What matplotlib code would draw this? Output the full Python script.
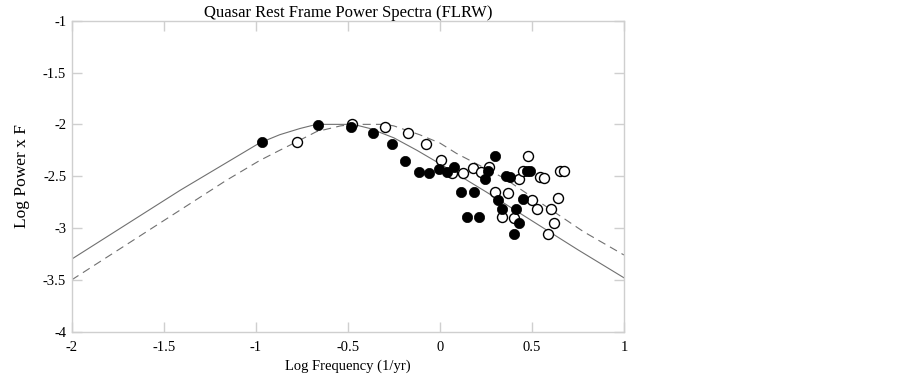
import matplotlib
matplotlib.use("Agg")
import matplotlib.pyplot as plt

plt.rcParams['font.family'] = ['Liberation Serif', 'DejaVu Serif']
plt.rcParams['axes.unicode_minus'] = False
plt.rcParams['lines.scale_dashes'] = False

# Model curves
solid_x = [-2.0, -1.41, -0.98, -0.87, -0.76, -0.67, -0.47, -0.38, -0.25, -0.125, 0.0, 0.25, 0.5, 0.75, 1.0]
solid_y = [-3.30, -2.635, -2.18, -2.10, -2.04, -2.00, -2.00, -2.04, -2.13, -2.25, -2.38, -2.65, -2.93, -3.21, -3.48]

dash_x = [-2.0, -1.16, -0.98, -0.87, -0.78, -0.67, -0.54, -0.47, -0.30, -0.25, -0.11, 0.0, 0.09, 0.35, 0.55, 0.78, 1.0]
dash_y = [-3.50, -2.54, -2.35, -2.25, -2.17, -2.07, -2.015, -2.00, -2.00, -2.015, -2.10, -2.18, -2.28, -2.52, -2.76, -3.035, -3.26]

# Observed frame (filled) points
filled_x = [-0.964, -0.663, -0.482, -0.361, -0.261, -0.187, -0.116, -0.058, -0.005, 0.038,
            0.078, 0.297, 0.114, 0.186, 0.264, 0.245, 0.360, 0.382, 0.318, 0.337,
            0.416, 0.451, 0.431, 0.400, 0.150, 0.213, 0.473, 0.487]
filled_y = [-2.174, -2.007, -2.029, -2.081, -2.193, -2.351, -2.463, -2.473, -2.429, -2.463,
            -2.409, -2.303, -2.656, -2.656, -2.451, -2.525, -2.499, -2.512, -2.734, -2.818,
            -2.818, -2.721, -2.950, -3.062, -2.892, -2.898, -2.451, -2.451]

# Rest frame (open) points
open_x = [-0.777, -0.475, -0.297, -0.174, -0.076, 0.005, 0.068, 0.125, 0.179, 0.224,
          0.266, 0.302, 0.368, 0.430, 0.480, 0.450, 0.545, 0.567, 0.654, 0.672,
          0.503, 0.527, 0.603, 0.639, 0.335, 0.400, 0.621, 0.587]
open_y = [-2.174, -2.000, -2.023, -2.081, -2.193, -2.345, -2.467, -2.473, -2.422, -2.463,
          -2.409, -2.656, -2.658, -2.526, -2.306, -2.451, -2.506, -2.515, -2.451, -2.451,
          -2.734, -2.818, -2.818, -2.714, -2.892, -2.900, -2.950, -3.062]

xticks = [-2, -1.5, -1, -0.5, 0, 0.5, 1]
xtick_labels = ["-2", "-1.5", "-1", "-0.5", "0", "0.5", "1"]
yticks = [-1, -1.5, -2, -2.5, -3, -3.5, -4]
ytick_labels = ["-1", "-1.5", "-2", "-2.5", "-3", "-3.5", "-4"]

fig = plt.figure(figsize=(9.03, 3.74), dpi=100)
ax = fig.add_axes([0.0794, 0.1131, 0.6116, 0.8316])

ax.plot(solid_x, solid_y, color='#707070', lw=0.8, zorder=2)
ax.plot(dash_x, dash_y, color='#707070', lw=0.8, dashes=(5.8, 3.8), zorder=2)

ax.plot(open_x, open_y, linestyle='none', marker='o', markersize=7.2,
        markerfacecolor='white', markeredgecolor='black', markeredgewidth=1.0, zorder=3)
ax.plot(filled_x, filled_y, linestyle='none', marker='o', markersize=7.4,
        markerfacecolor='black', markeredgecolor='black', markeredgewidth=0.5, zorder=4)

ax.set_xlim(-2, 1)
ax.set_ylim(-4, -1)
ax.set_xticks(xticks)
ax.set_xticklabels(xtick_labels)
ax.set_yticks(yticks)
ax.set_yticklabels(ytick_labels)

for s in ax.spines.values():
    s.set_color('#cfcfcf')
    s.set_linewidth(1.0)
ax.tick_params(direction='in', length=7.5, width=1.0, color='#cfcfcf',
               top=True, right=True, labelsize=10.5)
ax.tick_params(axis='x', pad=7)
ax.tick_params(axis='y', pad=4)

ax.set_title("Quasar Rest Frame Power Spectra (FLRW)", fontsize=12, pad=3)
ax.set_xlabel("Log Frequency (1/yr)", fontsize=10.5, labelpad=4)
ax.set_ylabel("Log Power x F", fontsize=12.5, labelpad=9)

fig.savefig("out.png", dpi=100)
